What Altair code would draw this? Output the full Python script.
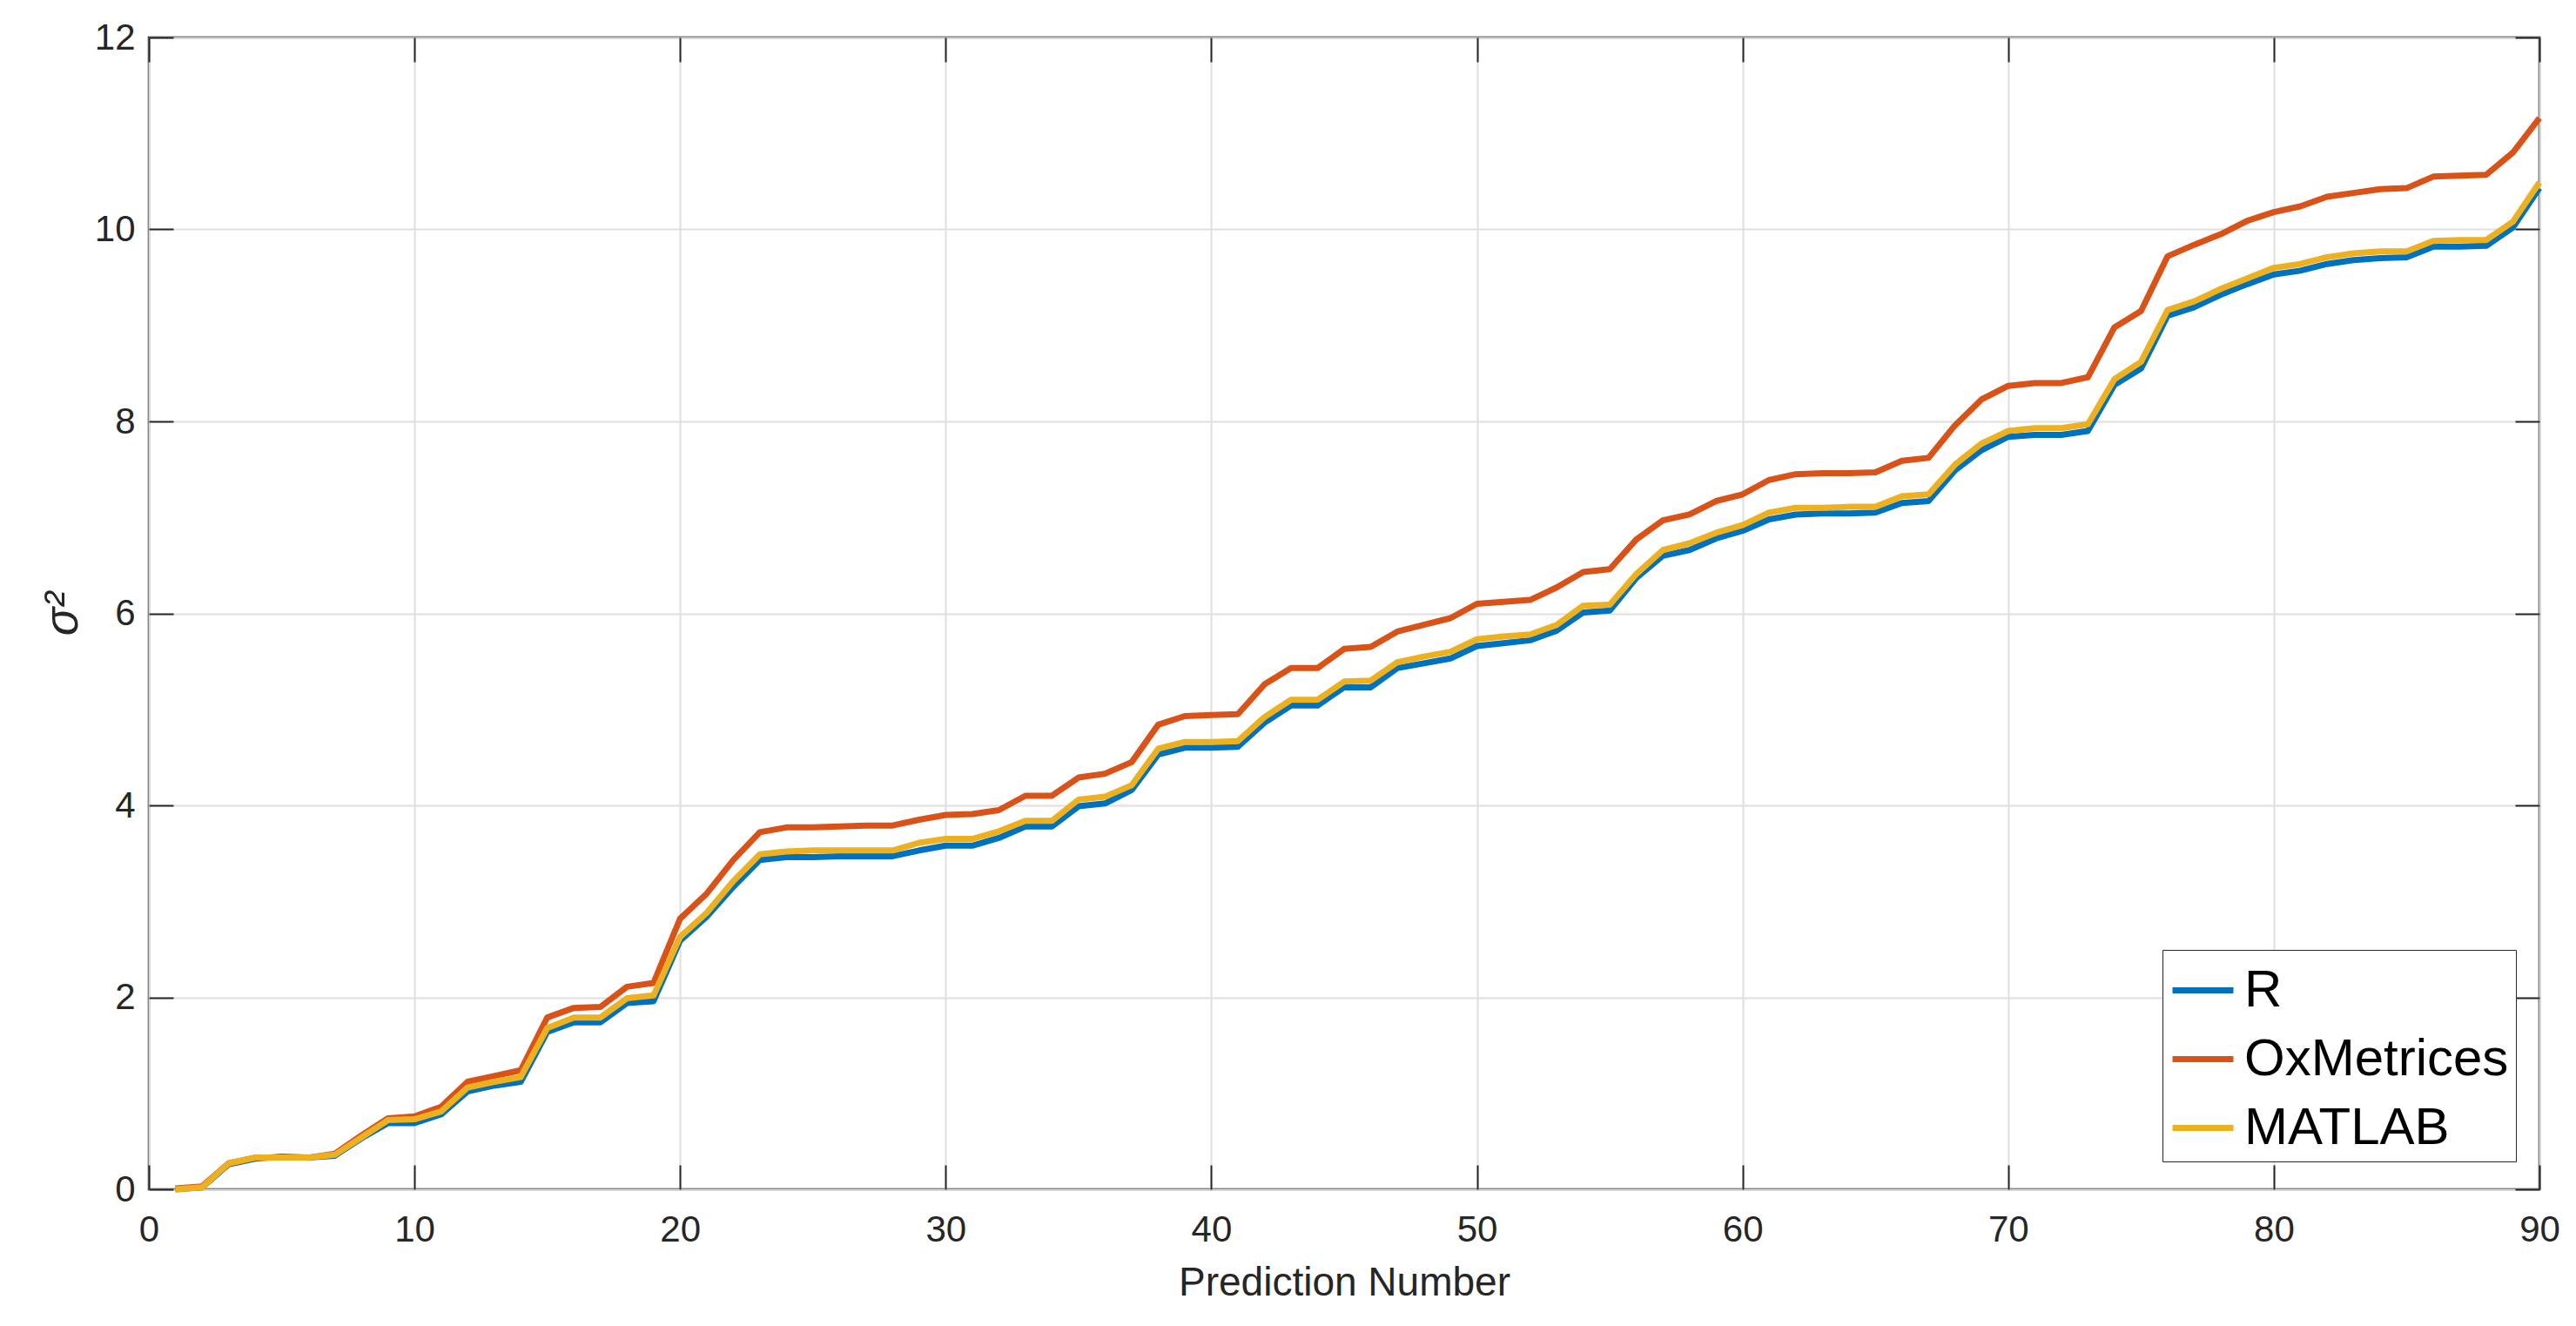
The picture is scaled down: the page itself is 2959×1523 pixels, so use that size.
import altair as alt
import pandas as pd

series_names = ["R", "OxMetrices", "MATLAB"]
series_colors = ["#0072BD", "#D95319", "#EDB120"]

prediction = list(range(1, 91))

r_values = [
    0.00, 0.02, 0.26, 0.32, 0.34, 0.33, 0.35, 0.53, 0.69, 0.69,
    0.78, 1.02, 1.08, 1.12, 1.64, 1.74, 1.74, 1.94, 1.96, 2.59,
    2.84, 3.15, 3.43, 3.46, 3.46, 3.47, 3.47, 3.47, 3.53, 3.58,
    3.58, 3.66, 3.78, 3.78, 3.99, 4.02, 4.16, 4.53, 4.60, 4.60,
    4.61, 4.86, 5.04, 5.04, 5.23, 5.23, 5.43, 5.48, 5.53, 5.66,
    5.69, 5.72, 5.82, 6.01, 6.03, 6.37, 6.60, 6.66, 6.78, 6.86,
    6.98, 7.03, 7.04, 7.04, 7.05, 7.15, 7.17, 7.49, 7.70, 7.84,
    7.86, 7.86, 7.90, 8.38, 8.55, 9.10, 9.19, 9.32, 9.43, 9.53,
    9.57, 9.64, 9.68, 9.70, 9.71, 9.82, 9.82, 9.83, 10.02, 10.43,
]

ox_values = [
    0.01, 0.03, 0.27, 0.33, 0.33, 0.33, 0.37, 0.56, 0.74, 0.76,
    0.86, 1.12, 1.18, 1.24, 1.79, 1.89, 1.90, 2.11, 2.15, 2.82,
    3.08, 3.43, 3.72, 3.77, 3.77, 3.78, 3.79, 3.79, 3.85, 3.90,
    3.91, 3.95, 4.10, 4.10, 4.29, 4.33, 4.45, 4.84, 4.93, 4.94,
    4.95, 5.26, 5.43, 5.43, 5.63, 5.65, 5.81, 5.88, 5.95, 6.10,
    6.12, 6.14, 6.27, 6.43, 6.46, 6.77, 6.97, 7.03, 7.17, 7.24,
    7.39, 7.45, 7.46, 7.46, 7.47, 7.59, 7.62, 7.96, 8.23, 8.37,
    8.40, 8.40, 8.46, 8.98, 9.15, 9.72, 9.84, 9.95, 10.09, 10.18,
    10.24, 10.34, 10.38, 10.42, 10.43, 10.55, 10.56, 10.57, 10.80, 11.16,
]

matlab_values = [
    0.00, 0.02, 0.27, 0.33, 0.33, 0.33, 0.36, 0.54, 0.72, 0.73,
    0.81, 1.06, 1.12, 1.17, 1.68, 1.79, 1.79, 1.99, 2.02, 2.63,
    2.88, 3.21, 3.49, 3.52, 3.53, 3.53, 3.53, 3.53, 3.61, 3.65,
    3.65, 3.73, 3.84, 3.84, 4.06, 4.09, 4.21, 4.59, 4.66, 4.66,
    4.67, 4.92, 5.10, 5.10, 5.29, 5.30, 5.49, 5.55, 5.60, 5.73,
    5.76, 5.78, 5.88, 6.08, 6.09, 6.41, 6.66, 6.73, 6.84, 6.92,
    7.05, 7.10, 7.10, 7.11, 7.11, 7.22, 7.24, 7.55, 7.77, 7.90,
    7.93, 7.93, 7.97, 8.44, 8.62, 9.16, 9.25, 9.38, 9.49, 9.60,
    9.64, 9.71, 9.75, 9.77, 9.77, 9.88, 9.89, 9.89, 10.08, 10.49,
]

x_ticks = list(range(0, 91, 10))
y_ticks = list(range(0, 13, 2))

frames = []
for name, vals in zip(series_names, [r_values, ox_values, matlab_values]):
    frames.append(pd.DataFrame({"n": prediction, "v": vals, "series": name}))
df = pd.concat(frames, ignore_index=True)

W, H = 2746, 1323
FONT = "Liberation Sans"
DARK = "#262626"

xscale = alt.Scale(domain=[0, 90], nice=False, zero=False)
yscale = alt.Scale(domain=[0, 12], nice=False, zero=False)
cscale = alt.Scale(domain=series_names, range=series_colors)

legend = alt.Legend(
    orient="none", legendX=2313, legendY=1048, title=None,
    symbolType="stroke", symbolSize=4900, symbolStrokeWidth=7,
    labelFontSize=60, labelFont=FONT, labelColor="black", labelOffset=9,
    rowPadding=10, padding=8, strokeColor=DARK, fillColor="white",
    labelLimit=1000, symbolOpacity=1,
)

main_x_axis = alt.Axis(
    values=x_ticks, format="d", title="Prediction Number", grid=True,
    gridColor="#dfdfdf", gridWidth=2, ticks=False, domain=False,
    labelFontSize=42, labelFont=FONT, labelColor=DARK, labelPadding=26,
    labelFlush=False, titleFont=FONT, titleFontSize=46, titleFontWeight="normal",
    titleColor=DARK, titleY=121, titleBaseline="alphabetic",
)
main_y_axis = alt.Axis(
    values=y_ticks, format="d", title="σ²", grid=True,
    gridColor="#dfdfdf", gridWidth=2, ticks=False, domain=False,
    labelFontSize=42, labelFont=FONT, labelColor=DARK, labelPadding=16,
    labelFlush=False, titleFont=FONT, titleFontSize=54, titleFontWeight="normal",
    titleFontStyle="italic",
    titleColor=DARK, titleX=-83, titleY=H / 2, titleAngle=270,
    titleBaseline="alphabetic", titleAlign="center",
)


def tick_axis(orient, offset, values):
    return alt.Axis(
        orient=orient, offset=offset, values=values, labels=False, domain=False,
        grid=False, ticks=True, tickSize=28, tickWidth=2, tickColor=DARK, title=None,
    )


layers = []
for i, name in enumerate(series_names):
    base = alt.Chart(df).transform_filter(alt.datum.series == name).mark_line(
        strokeWidth=7, strokeJoin="round"
    )
    if i == 0:
        enc = base.encode(
            x=alt.X("n:Q", scale=xscale, axis=main_x_axis),
            y=alt.Y("v:Q", scale=yscale, axis=main_y_axis),
            color=alt.Color("series:N", scale=cscale, legend=legend),
        )
    else:
        enc = base.encode(
            x=alt.X("n:Q", scale=xscale, axis=None),
            y=alt.Y("v:Q", scale=yscale, axis=None),
            color=alt.Color("series:N", scale=cscale, legend=legend),
        )
    layers.append(enc)

# inward ticks on bottom/left
ticks_a = alt.Chart(df).mark_point(opacity=0).encode(
    x=alt.X("n:Q", scale=xscale, axis=tick_axis("top", -H, x_ticks)),
    y=alt.Y("v:Q", scale=yscale, axis=tick_axis("right", -W, y_ticks)),
)
# inward ticks on top/right
ticks_b = alt.Chart(df).mark_point(opacity=0).encode(
    x=alt.X("n:Q", scale=xscale, axis=tick_axis("bottom", -H, x_ticks)),
    y=alt.Y("v:Q", scale=yscale, axis=tick_axis("left", -W, y_ticks)),
)

chart = (
    alt.layer(*layers, ticks_a, ticks_b)
    .resolve_axis(x="independent", y="independent")
    .properties(
        width=W, height=H, autosize="none",
        padding={"left": 163, "top": 35, "right": 34, "bottom": 149},
        background="white",
    )
    .configure_view(stroke=DARK, strokeWidth=2.5)
)

chart.save("out.html", embed_options={"renderer": "svg", "actions": False})
